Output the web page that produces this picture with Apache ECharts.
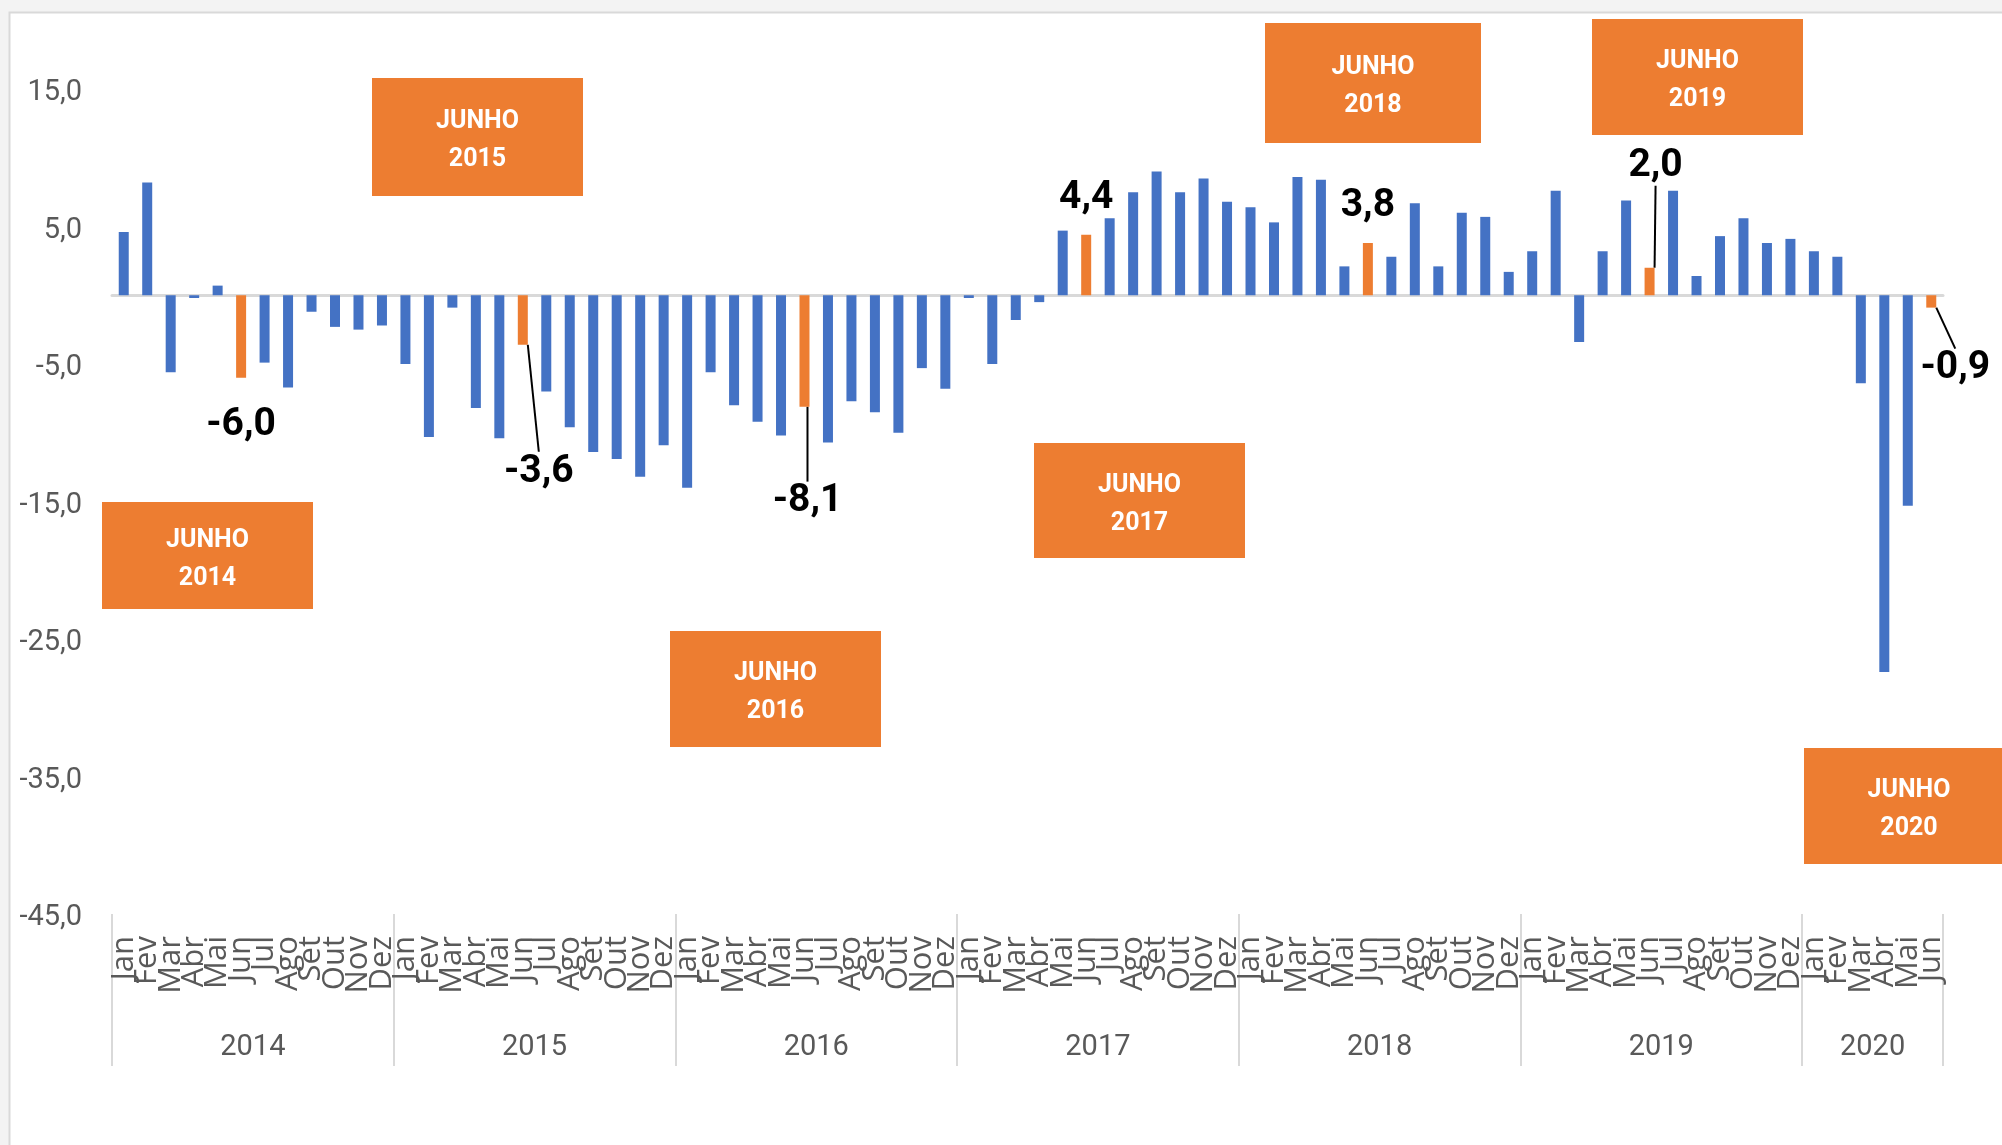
<!DOCTYPE html>
<html>
<head>
<meta charset="utf-8">
<script src="https://cdn.jsdelivr.net/npm/echarts@6/dist/echarts.min.js"></script>
<style>
  html, body { margin: 0; padding: 0; background: #f3f3f3; }
  #chart { width: 2002px; height: 1145px; }
</style>
</head>
<body>
<div id="chart"></div>
<script>
// ---- data ----
var monthNames = ['Jan','Fev','Mar','Abr','Mai','Jun','Jul','Ago','Set','Out','Nov','Dez'];
var years = ['2014','2015','2016','2017','2018','2019','2020'];

var values2014 = [4.6, 8.2, -5.6, -0.2, 0.7, -6.0, -4.9, -6.7, -1.2, -2.3, -2.5, -2.2];
var values2015 = [-5.0, -10.3, -0.9, -8.2, -10.4, -3.6, -7.0, -9.6, -11.4, -11.9, -13.2, -10.9];
var values2016 = [-14.0, -5.6, -8.0, -9.2, -10.2, -8.1, -10.7, -7.7, -8.5, -10.0, -5.3, -6.8];
var values2017 = [-0.2, -5.0, -1.8, -0.5, 4.7, 4.4, 5.6, 7.5, 9.0, 7.5, 8.5, 6.8];
var values2018 = [6.4, 5.3, 8.6, 8.4, 2.1, 3.8, 2.8, 6.7, 2.1, 6.0, 5.7, 1.7];
var values2019 = [3.2, 7.6, -3.4, 3.2, 6.9, 2.0, 7.6, 1.4, 4.3, 5.6, 3.8, 4.1];
var values2020 = [3.2, 2.8, -6.4, -27.4, -15.3, -0.9];
var valuesByYear = [values2014, values2015, values2016, values2017, values2018, values2019, values2020];

var yTicks = [-45, -35, -25, -15, -5, 5, 15];

// label nudges for the June values (px) and whether a leader line is drawn
var junLabelDx = [0, 16, 3, 0, 0, 6, 24];
var junLabelDy = [22, 102, 70, -12, -12, -77, 36];
var junLeader  = [false, true, true, false, false, true, true];

// ---- build ----
var categories = [];
var values = [];
var yearStarts = [];
var yearMids = [];
valuesByYear.forEach(function (arr, y) {
    yearStarts.push(categories.length);
    yearMids.push(categories.length + arr.length / 2);
    arr.forEach(function (v, m) {
        categories.push(monthNames[m]);
        values.push(v);
    });
});
yearStarts.push(categories.length);

var shiftByIndex = {};
var barData = values.map(function (v, i) {
    var isJun = (i % 12) === 5;
    if (!isJun) return { value: v };
    var y = Math.floor(i / 12);
    shiftByIndex[i] = [junLabelDx[y], junLabelDy[y]];
    return {
        value: v,
        itemStyle: { color: '#ED7D31' },
        label: { show: true, position: v < 0 ? 'bottom' : 'top' },
        labelLine: { show: junLeader[y] }
    };
});

function fmt(v) { return v.toFixed(1).replace('.', ','); }

var labelFont = 'Roboto, "Noto Sans", sans-serif';

// orange boxes
var boxes = [
    { year: '2014', x: 102,  y: 502, w: 211, h: 107 },
    { year: '2015', x: 372,  y: 78,  w: 211, h: 118 },
    { year: '2016', x: 670,  y: 631, w: 211, h: 116 },
    { year: '2017', x: 1034, y: 443, w: 211, h: 115 },
    { year: '2018', x: 1265, y: 23,  w: 216, h: 120 },
    { year: '2019', x: 1592, y: 19,  w: 211, h: 116 },
    { year: '2020', x: 1804, y: 748, w: 210, h: 116 }
];

var graphics = [{
    type: 'rect', z: -10, silent: true,
    shape: { x: 9.5, y: 12.5, width: 2010, height: 1140 },
    style: { fill: '#ffffff', stroke: '#d9d9d9', lineWidth: 2 }
}];
boxes.forEach(function (b) {
    graphics.push({
        type: 'rect', z: 100, silent: true,
        shape: { x: b.x, y: b.y, width: b.w, height: b.h },
        style: { fill: '#ED7D31' }
    });
    graphics.push({
        type: 'text', z: 101, silent: true,
        x: b.x + b.w / 2,
        y: b.y + b.h / 2 + 4,
        style: {
            text: 'JUNHO\n' + b.year,
            fill: '#ffffff',
            font: 'bold 25px ' + labelFont,
            lineHeight: 38,
            align: 'center',
            verticalAlign: 'middle'
        }
    });
});

var myChart = echarts.init(document.getElementById('chart'));

option = {
    backgroundColor: '#f3f3f3',
    animation: false,
    graphic: graphics,
    grid: { left: 112, right: 59, top: 89, bottom: 231, containLabel: false },
    xAxis: [
        {
            type: 'category',
            data: categories,
            position: 'bottom',
            axisLine: { show: false, onZero: false },
            axisTick: { show: false },
            axisLabel: {
                interval: 0,
                rotate: 90,
                margin: 22,
                color: '#595959',
                fontSize: 31,
                fontFamily: '"Open Sans", sans-serif'
            }
        },
        {
            type: 'value',
            min: 0,
            max: categories.length,
            position: 'bottom',
            splitLine: { show: false },
            axisLine: { show: false, onZero: false },
            axisTick: {
                show: true,
                customValues: yearStarts,
                length: 152,
                lineStyle: { color: '#d9d9d9', width: 2 }
            },
            axisLabel: {
                customValues: yearMids,
                margin: 119,
                color: '#595959',
                fontSize: 29,
                fontFamily: labelFont,
                formatter: function (v) {
                    var k = yearMids.indexOf(v);
                    return k >= 0 ? years[k] : '';
                }
            }
        },
        {
            type: 'category',
            data: categories,
            position: 'bottom',
            axisLine: { show: true, onZero: true, lineStyle: { color: '#d9d9d9', width: 3 } },
            axisTick: { show: false },
            axisLabel: { show: false }
        }
    ],
    yAxis: {
        type: 'value',
        min: yTicks[0],
        max: yTicks[yTicks.length - 1],
        interval: 10,
        axisLine: { show: false, onZero: false },
        axisTick: { show: false },
        splitLine: { show: false },
        axisLabel: {
            margin: 30,
            color: '#595959',
            fontSize: 29,
            fontFamily: labelFont,
            formatter: function (v) { return '{t|' + fmt(v) + '}'; },
            rich: {
                t: {
                    color: '#595959',
                    fontSize: 29,
                    fontFamily: labelFont,
                    padding: [8, 0, 0, 0]
                }
            }
        }
    },
    series: [{
        type: 'bar',
        xAxisIndex: 0,
        yAxisIndex: 0,
        barWidth: 10,
        itemStyle: { color: '#4472C4' },
        data: barData,
        label: {
            show: false,
            color: '#000000',
            fontSize: 39,
            lineHeight: 40,
            fontWeight: 'bold',
            fontFamily: labelFont,
            formatter: function (p) { return fmt(p.value); }
        },
        labelLine: {
            show: false,
            lineStyle: { color: '#000000', width: 2 }
        },
        labelLayout: function (params) {
            var s = shiftByIndex[params.dataIndex];
            if (!s) return {};
            return { dx: s[0], dy: s[1] };
        }
    }]
};

myChart.setOption(option, true);
</script>
</body>
</html>
